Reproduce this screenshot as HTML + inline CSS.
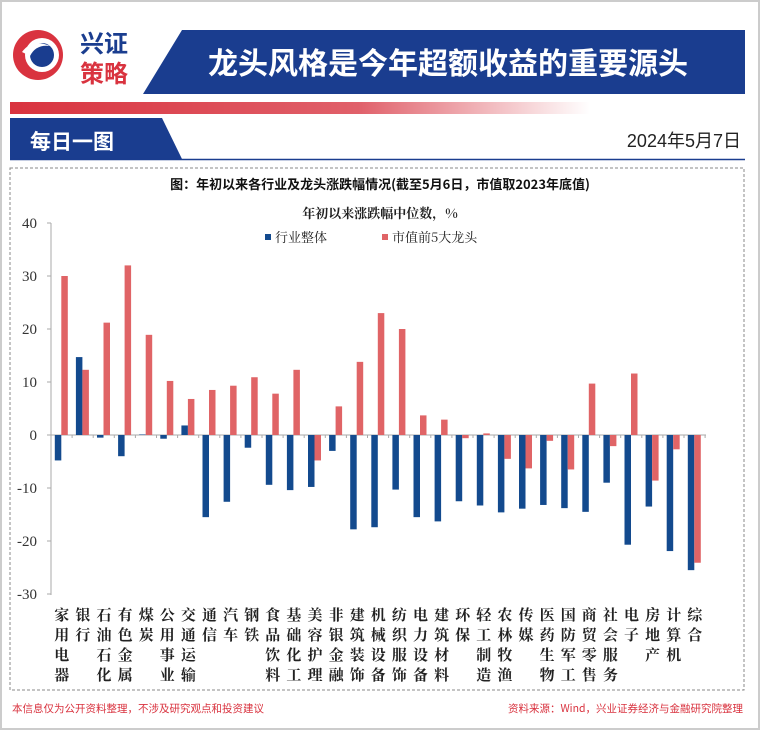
<!DOCTYPE html>
<html><head><meta charset="utf-8"><style>
body{margin:0;background:#fff;width:760px;height:730px;overflow:hidden;font-family:"Liberation Sans","Noto Sans CJK SC",sans-serif}
</style></head><body>
<svg width="760" height="730" xmlns="http://www.w3.org/2000/svg" style="position:absolute;left:0;top:0">
<defs>
<linearGradient id="rg" x1="0" x2="1"><stop offset="0" stop-color="#d9333f"/><stop offset="0.6" stop-color="#e0606a"/><stop offset="1" stop-color="#fff"/></linearGradient>
</defs>
<rect x="1" y="1" width="758" height="728" fill="none" stroke="#ccc" stroke-width="2"/>
<circle cx="38" cy="55" r="25" fill="#d9333f"/>
<circle cx="42" cy="55" r="17" fill="#fff"/>
<path d="M30 55 a12 12 0 0 1 24 0 a12 12 0 0 1 -24 0z" fill="#1a3d8f"/>
<path d="M22 52 q10 -14 28 -6 q-14 -2 -20 10z" fill="#fff"/>
<text x="80" y="52" font-size="24" font-weight="bold" fill="#1a3d8f" font-family="Noto Sans CJK SC">兴证</text>
<text x="80" y="82" font-size="24" font-weight="bold" fill="#d9333f" font-family="Noto Sans CJK SC">策略</text>
<polygon points="182,30 745,30 745,94 143,94" fill="#1a3d8f"/>
<text x="448" y="74" font-size="30" font-weight="bold" fill="#fff" text-anchor="middle" font-family="Noto Sans CJK SC">龙头风格是今年超额收益的重要源头</text>
<rect x="10" y="102" width="580" height="12" fill="url(#rg)"/>
<polygon points="10,118 162,118 182,159 10,159" fill="#1a3d8f"/>
<line x1="10" y1="159.5" x2="745" y2="159.5" stroke="#1a3d8f" stroke-width="1.5"/>
<text x="30" y="149" font-size="21" font-weight="bold" fill="#fff" font-family="Noto Sans CJK SC">每日一图</text>
<text x="741" y="147" font-size="18" fill="#222" text-anchor="end">2024年5月7日</text>
<rect x="10" y="168" width="734" height="522" fill="none" stroke="#888" stroke-dasharray="3,2"/>
<text x="380" y="189" font-size="13" font-weight="bold" fill="#111" text-anchor="middle" font-family="Noto Sans CJK SC">图：年初以来各行业及龙头涨跌幅情况(截至5月6日，市值取2023年底值)</text>
<text x="380" y="218" font-size="13" font-weight="bold" fill="#222" text-anchor="middle" font-family="Noto Serif CJK SC,serif">年初以来涨跌幅中位数，%</text>
<rect x="265" y="234" width="6" height="6" fill="#134a8e"/>
<text x="275" y="242" font-size="13" fill="#222" font-family="Noto Serif CJK SC,serif">行业整体</text>
<rect x="382" y="234" width="6" height="6" fill="#e06466"/>
<text x="392" y="242" font-size="13" fill="#222" font-family="Noto Serif CJK SC,serif">市值前5大龙头</text>
<g id="chart"></g>
<text x="12" y="712" font-size="10.5" fill="#d9333f" font-family="Noto Sans CJK SC">本信息仅为公开资料整理，不涉及研究观点和投资建议</text>
<text x="743" y="712" font-size="10.5" fill="#d9333f" text-anchor="end" font-family="Noto Sans CJK SC">资料来源：Wind，兴业证券经济与金融研究院整理</text>
</svg>
<script>
var d=[["家用电器",-4.8,30],["银行",14.7,12.3],["石油石化",-0.5,21.2],["有色金属",-4,32],["煤炭",0.1,18.9],["公用事业",-0.7,10.2],["交通运输",1.8,6.8],["通信",-15.5,8.5],["汽车",-12.6,9.3],["钢铁",-2.4,10.9],["食品饮料",-9.4,7.8],["基础化工",-10.4,12.3],["美容护理",-9.8,-4.8],["非银金融",-3,5.4],["建筑装饰",-17.8,13.8],["机械设备",-17.4,23],["纺织服饰",-10.3,20],["电力设备",-15.5,3.7],["建筑材料",-16.3,2.9],["环保",-12.5,-0.6],["轻工制造",-13.3,0.3],["农林牧渔",-14.6,-4.5],["传媒",-13.9,-6.3],["医药生物",-13.2,-1.1],["国防军工",-13.8,-6.5],["商贸零售",-14.5,9.7],["社会服务",-9,-2.1],["电子",-20.7,11.6],["房地产",-13.5,-8.6],["计算机",-21.9,-2.7],["综合",-25.5,-24.1]];
var s="",x0=51,w=21.1,Y=function(v){return 435-5.3*v};
var ff='font-family="Liberation Serif,serif"', fc='font-family="Noto Serif CJK SC,Noto Sans CJK SC,serif"';
s+='<line x1="'+x0+'" y1="223" x2="'+x0+'" y2="595" stroke="#aaa"/>';
for(var v=-30;v<=40;v+=10){var y=Y(v);s+='<line x1="'+(x0-4)+'" y1="'+y+'" x2="'+x0+'" y2="'+y+'" stroke="#aaa"/><text x="37" y="'+(y+5)+'" font-size="15" fill="#333" text-anchor="end" '+ff+'>'+v+'</text>';}
s+='<line x1="'+x0+'" y1="435" x2="706" y2="435" stroke="#aaa"/>';
d.forEach(function(r,i){var c=x0+w*i+10.8;
var a=Y(0),b=Y(r[1]);s+='<rect x="'+(c-7)+'" y="'+Math.min(a,b)+'" width="6.5" height="'+Math.max(Math.abs(a-b),0.5)+'" fill="#134a8e"/>';
b=Y(r[2]);s+='<rect x="'+(c-0.5)+'" y="'+Math.min(a,b)+'" width="6.5" height="'+Math.max(Math.abs(a-b),0.5)+'" fill="#e06466"/>';
s+='<line x1="'+(x0+w*(i+1))+'" y1="435" x2="'+(x0+w*(i+1))+'" y2="438" stroke="#aaa"/>';
for(var k=0;k<r[0].length;k++)s+='<text x="'+c+'" y="'+(620+k*20)+'" font-size="15" font-weight="bold" fill="#222" text-anchor="middle" '+fc+'>'+r[0][k]+'</text>';
});
document.getElementById("chart").innerHTML=s;
</script>
</body></html>
